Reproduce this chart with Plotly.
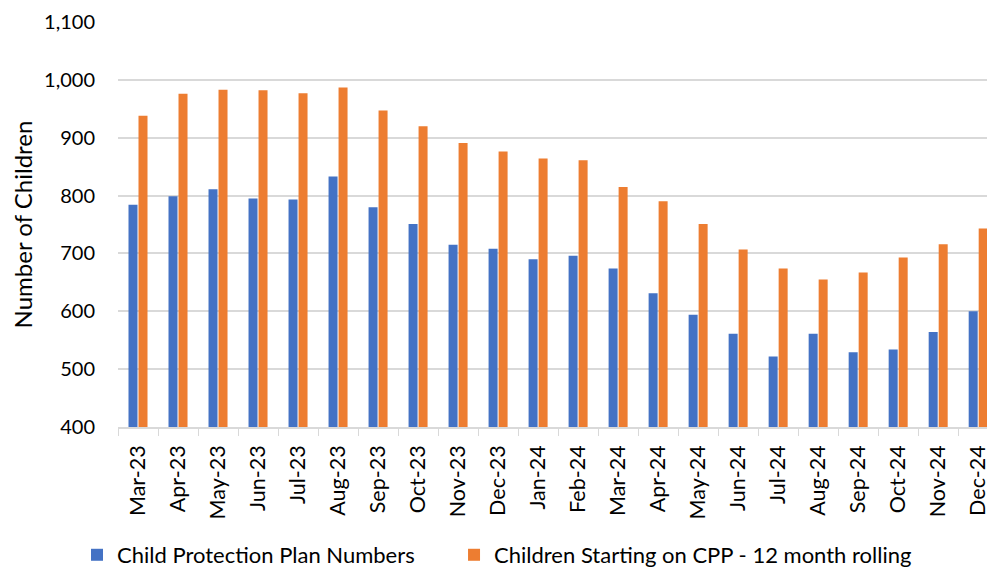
import plotly.graph_objects as go

categories = ["Mar-23", "Apr-23", "May-23", "Jun-23", "Jul-23", "Aug-23", "Sep-23", "Oct-23",
              "Nov-23", "Dec-23", "Jan-24", "Feb-24", "Mar-24", "Apr-24", "May-24", "Jun-24",
              "Jul-24", "Aug-24", "Sep-24", "Oct-24", "Nov-24", "Dec-24"]
cpp_numbers = [784, 799, 811, 795, 793, 833, 780, 751, 715, 708, 690, 696, 674, 631,
               594, 561, 522, 561, 529, 534, 564, 600]
starting_cpp = [938, 976, 983, 982, 977, 987, 947, 920, 891, 876, 864, 861, 815, 790,
                751, 707, 674, 655, 667, 693, 716, 743]
series_names = ["Child Protection Plan Numbers", "Children Starting on CPP - 12 month rolling"]
y_ticks = [400, 500, 600, 700, 800, 900, 1000, 1100]

FONT = "Lato"
fig = go.Figure()
fig.add_trace(go.Bar(x=categories, y=cpp_numbers, name=series_names[0], legend="legend",
                     marker=dict(color="#4472C4", line=dict(width=0))))
fig.add_trace(go.Bar(x=categories, y=starting_cpp, name=series_names[1], legend="legend2",
                     marker=dict(color="#ED7D31", line=dict(width=0))))

legend_common = dict(orientation="h", y=-0.316, yanchor="middle",
                     bgcolor="rgba(0,0,0,0)", itemwidth=30,
                     font=dict(family=FONT, size=22, color="#000000"))

fig.update_layout(
    width=995, height=569,
    margin=dict(l=110, r=0, t=14, b=150),
    paper_bgcolor="white", plot_bgcolor="white",
    barmode="group", bargap=0.5, bargroupgap=0.1,
    font=dict(family=FONT, size=20, color="#000000"),
    showlegend=True,
    legend=dict(x=-0.0463, xanchor="left", **legend_common),
    legend2=dict(x=0.3797, xanchor="left", **legend_common),
    xaxis=dict(type="category", range=[-0.5, 21.62], tickangle=-90, automargin=False,
               ticks="outside", tickson="boundaries", ticklen=7, tickcolor="#D9D9D9",
               ticklabelstandoff=8,
               showline=True, linecolor="#D9D9D9", linewidth=1.5,
               showgrid=False, tickfont=dict(family=FONT, size=21.5, color="#000000")),
    yaxis=dict(range=[400, 1100], tickvals=y_ticks, tickformat=",", automargin=False,
               showgrid=True, gridcolor="#D9D9D9", gridwidth=1.5,
               zeroline=False, showline=False, ticks="",
               ticklabelstandoff=22,
               tickfont=dict(family=FONT, size=20, color="#000000"),
               title=dict(text="Number of Children", standoff=14,
                          font=dict(family=FONT, size=24, color="#000000"))),
)

fig.write_html("out.html")
